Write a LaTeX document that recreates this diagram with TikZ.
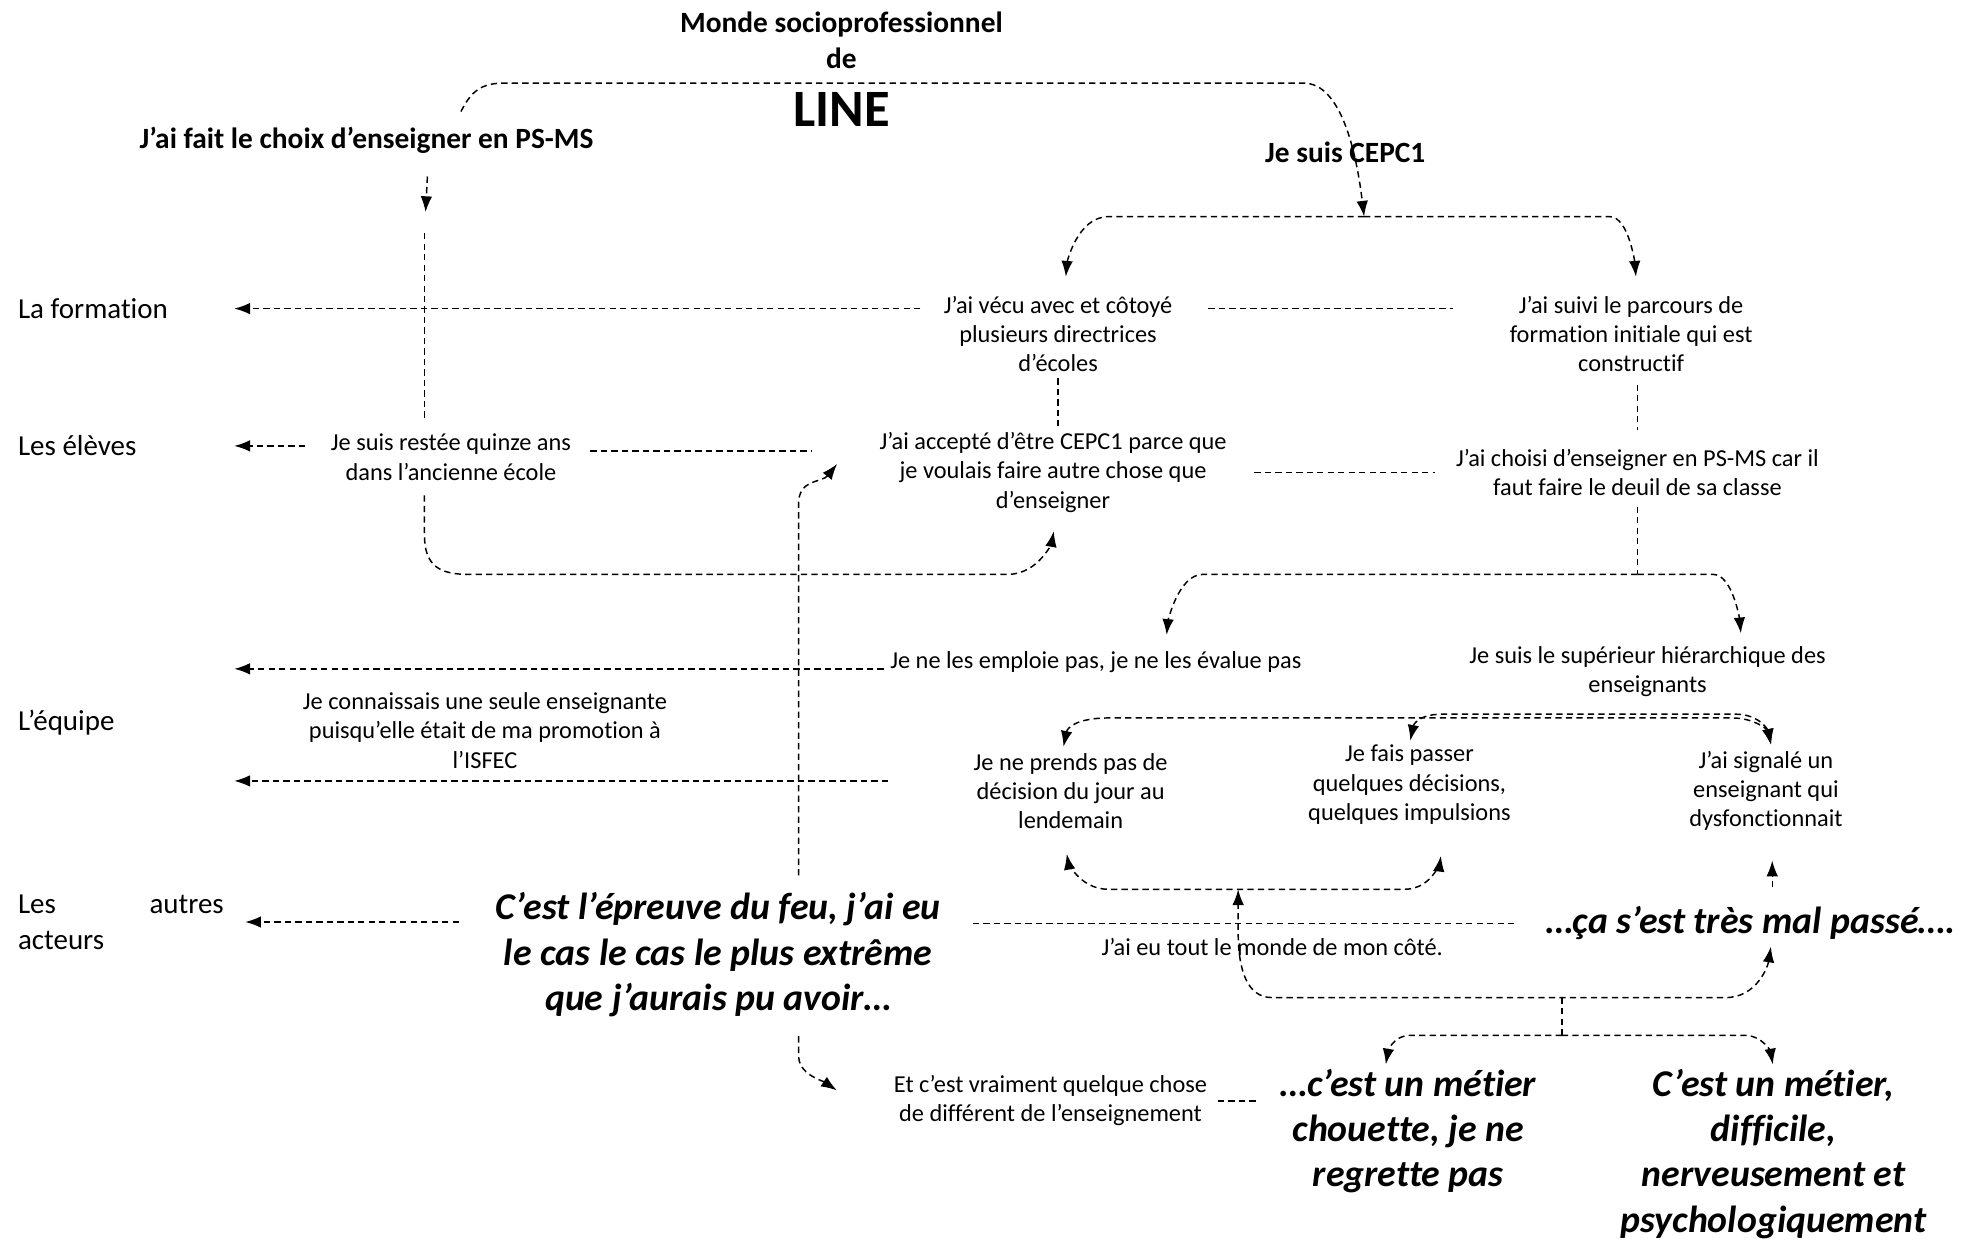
\documentclass[tikz,border=0pt]{standalone}
\usepackage{fontspec}
\setmainfont{Carlito}[Ligatures=NoCommon]
\usetikzlibrary{arrows.meta,positioning,calc}

\begin{document}
\begin{tikzpicture}[
    x=0.6pt, y=-0.6pt,
    link/.style={dash pattern=on 3pt off 2pt, line width=0.7pt},
    arr/.style={link, -{Latex[length=7.5pt,width=5.5pt]}},
    darr/.style={link, {Latex[length=7.5pt,width=5.5pt]}-{Latex[length=7.5pt,width=5.5pt]}},
    txt/.style={align=center, font=\fontsize{11.6}{13.9}\selectfont, inner sep=0pt},
    theme/.style={anchor=west, align=left, font=\fontsize{13.8}{17}\selectfont, inner sep=0pt},
    headline/.style={align=center, font=\bfseries\fontsize{14}{16.8}\selectfont, inner sep=0pt},
    quote/.style={align=center, font=\bfseries\itshape\fontsize{18}{21.6}\selectfont, inner sep=0pt}
]
    \useasboundingbox (0,0) rectangle (1568,984);

    % Title and first choices
    \node[headline] (monde) at (668,32) {Monde socioprofessionnel\\de};
    \node[font=\bfseries\fontsize{25}{28}\selectfont, inner sep=0pt] (line) at (668,87) {LINE};
    \node[headline] (choix) at (291,111) {J’ai fait le choix d’enseigner en PS-MS};
    \node[headline] (cepc) at (1068,121) {Je suis CEPC1};

    % Themes on the left
    \foreach \name/\y/\lbl in {formation/245/La formation, eleves/354/Les élèves, equipe/574/L’équipe} {
        \node[theme] (\name) at (14,\y) {\lbl};
    }
    \node[theme, text width=98pt] (autres) at (14,732) {Les \hfill autres\\acteurs};

    % Statements
    \node[txt] (vecu) at (840,265) {J’ai vécu avec et côtoyé\\plusieurs directrices\\d’écoles};
    \node[txt] (parcours) at (1295,265) {J’ai suivi le parcours de\\formation initiale qui est\\constructif};
    \node[txt] (restee) at (358,363) {Je suis restée quinze ans\\dans l’ancienne école};
    \node[txt] (accepte) at (836,375) {J’ai accepté d’être CEPC1 parce que\\je voulais faire autre chose que\\d’enseigner};
    \node[txt] (choisi) at (1300,375) {J’ai choisi d’enseigner en PS-MS car il\\faut faire le deuil de sa classe};
    \node[txt] (emploie) at (870,526) {Je ne les emploie pas, je ne les évalue pas};
    \node[txt] (superieur) at (1308,533) {Je suis le supérieur hiérarchique des\\enseignants};
    \node[txt] (connaissais) at (385,580) {Je connaissais une seule enseignante\\puisqu’elle était de ma promotion à\\l’ISFEC};
    \node[txt] (prends) at (850,628) {Je ne prends pas de\\décision du jour au\\lendemain};
    \node[txt] (passer) at (1119,623) {Je fais passer\\quelques décisions,\\quelques impulsions};
    \node[txt] (signale) at (1402,628) {J’ai signalé un\\enseignant qui\\dysfonctionnait};
    \node[txt] (cote) at (1010,752) {J’ai eu tout le monde de mon côté.};
    \node[txt] (vraiment) at (834,874) {Et c’est vraiment quelque chose\\de différent de l’enseignement};

    % Quotes
    \node[quote] (epreuve) at (570,758) {C’est l’épreuve du feu, j’ai eu\\le cas le cas le plus extrême\\que j’aurais pu avoir…};
    \node[quote] (malpasse) at (1390,733) {…ça s’est très mal passé….};
    \node[quote] (chouette) at (1118,898) {…c’est un métier\\chouette, je ne\\regrette pas};
    \node[quote] (difficile) at (1408,916) {C’est un métier,\\difficile,\\nerveusement et\\psychologiquement};

    % Junctions
    \coordinate (j1) at (1083,172);
    \coordinate (j2) at (1300,456);
    \coordinate (j3) at (1240,792);
    \coordinate (j4) at (983,706);
    \coordinate (j5) at (1240,822);
    \coordinate (lefttop) at (337,185);
    \coordinate (spine) at (634,0);
    \coordinate (tips) at (186,0);
    \coordinate (rowemp) at ([yshift=-3pt]emploie.west);
    \coordinate (rowres) at ([yshift=3pt]restee.east);
    \coordinate (rowteam) at (705,620);

    % Top arc
    \draw[arr] ([xshift=45pt,yshift=7pt]choix.north) .. controls +(8,-16) and +(-18,0) .. (400,66)
        -- (1035,66) .. controls +(30,0) and +(-6,-50) .. (j1);
    \draw[arr, shorten >=10pt] ([xshift=29pt,yshift=-11pt]choix.south) -- (lefttop);
    \draw[link, shorten >=7pt] (lefttop) -- (lefttop |- restee.north);
    \draw[arr, shorten <=7pt, shorten >=9pt] (lefttop |- restee.south) -- (337,425)
        .. controls +(0,25) and +(-22,0) .. (372,456) -- (800,456)
        .. controls +(25,0) and +(-4,22) .. ([xshift=2pt]accepte.south);

    % Branches of CEPC1
    \draw[arr, shorten >=9pt] (j1) -- (880,172) .. controls +(-25,0) and +(2,-25) .. ([xshift=3pt]vecu.north);
    \draw[arr, shorten >=9pt] (j1) -- (1278,172) .. controls +(15,0) and +(-2,-25) .. ([xshift=3pt]parcours.north);

    % La formation
    \draw[arr, shorten <=11pt] (vecu.west |- formation) -- (tips |- formation);
    \draw[link, shorten <=17pt, shorten >=27pt] (vecu.east |- formation) -- (parcours.west |- formation);
    \draw[link, shorten <=3pt, shorten >=3pt] (vecu.south) -- (vecu.south |- accepte.north);
    \draw[link, shorten <=6pt, shorten >=9pt] (j2 |- parcours.south) -- (j2 |- choisi.north);

    % Les eleves
    \draw[arr, shorten <=12pt] (restee.west |- eleves) -- (tips |- eleves);
    \draw[link, shorten <=9pt, shorten >=32pt] (rowres) -- (accepte.west |- rowres);
    \draw[link, shorten <=13pt, shorten >=10pt] (accepte.east) -- (choisi.west |- accepte.east);
    \draw[link, shorten <=5pt] (j2 |- choisi.south) -- (j2);
    \draw[arr, shorten >=8pt] (j2) -- (955,456) .. controls +(-20,0) and +(2,-22) .. ([xshift=33pt]emploie.north);
    \draw[arr, shorten >=6pt] (j2) -- (1360,456) .. controls +(15,0) and +(-2,-22) .. ([xshift=45pt]superieur.north);

    % L'equipe
    \draw[arr, shorten <=3pt] (rowemp) -- (tips |- rowemp);
    \draw[arr] (rowteam) -- (tips |- rowteam);
    \draw[darr, shorten <=3pt, shorten >=3pt] ([xshift=-4pt]prends.north) .. controls +(4,-20) and +(-25,0) .. (880,570)
        -- (1375,570) .. controls +(20,0) and +(-3,-15) .. ([xshift=3pt]signale.north);
    \draw[darr, shorten <=2pt, shorten >=3pt] (passer.north) .. controls +(3,-15) and +(-20,0) .. (1145,567)
        -- (1378,567) .. controls +(20,0) and +(-3,-15) .. ([xshift=3pt]signale.north);
    \draw[darr, shorten <=12pt, shorten >=15pt] ([xshift=-4pt]prends.south) .. controls +(4,22) and +(-25,0) .. (880,706)
        -- (1115,706) .. controls +(25,0) and +(-3,22) .. ([xshift=17pt]passer.south);

    % Les autres acteurs
    \draw[arr, shorten <=8pt] (spine |- epreuve.north) -- (634,400)
        .. controls +(0,-20) and +(-12,15) .. ([xshift=-20pt,yshift=4pt]accepte.west);
    \draw[arr, shorten <=9pt] (spine |- epreuve.south) -- (634,838)
        .. controls +(0,15) and +(-12,-8) .. ([xshift=-27pt,yshift=5pt]vraiment.west);
    \draw[arr, shorten <=17pt, shorten >=10pt] (epreuve.west |- autres) -- (autres.east);
    \draw[link, shorten <=15pt, shorten >=14pt] (epreuve.east |- malpasse.west) -- (malpasse.west);
    \draw[darr, shorten <=3pt] ([xshift=10pt]malpasse.south) .. controls +(-3,20) and +(25,0) .. (1370,792)
        -- (1010,792) .. controls +(-20,0) and +(0,30) .. (983,740) -- (j4);
    \draw[arr, shorten <=9pt, shorten >=14pt] ([xshift=3pt]malpasse.north -| signale) -- ([xshift=3pt]signale.south);
    \draw[link] (j3) -- (j5);
    \draw[arr, shorten >=2pt] (j5) -- (1120,822) .. controls +(-15,0) and +(2,-12) .. ([xshift=-11pt]chouette.north);
    \draw[arr, shorten >=2pt] (j5) -- (1385,822) .. controls +(15,0) and +(-2,-12) .. (difficile.north);
    \draw[link, shorten <=5pt, shorten >=11pt] (vraiment.east) -- (chouette.west |- vraiment.east);
\end{tikzpicture}
\end{document}
